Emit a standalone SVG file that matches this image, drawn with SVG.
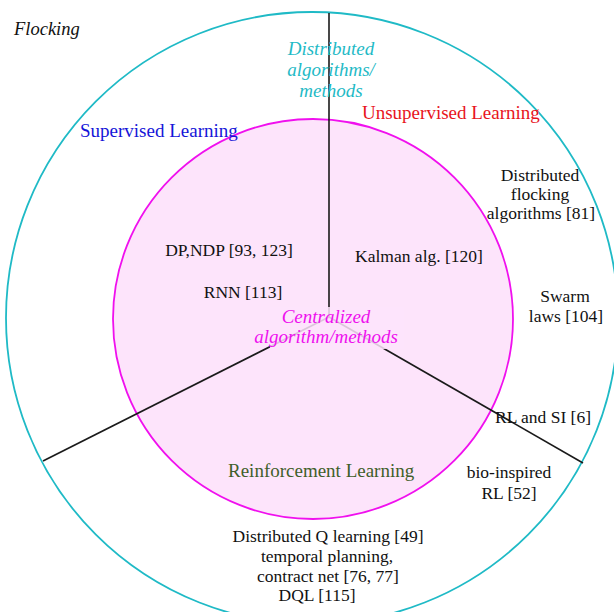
<svg xmlns="http://www.w3.org/2000/svg" width="614" height="612" viewBox="0 0 614 612">
  <style>
    .t { font-family: "Liberation Serif", "Times New Roman", serif; fill: #111; font-size: 17.5px; }
    .c { text-anchor: middle; }
    .it { font-style: italic; }
    .ring { fill: none; stroke: #1fbac6; stroke-width: 1.8; }
    .core { fill: #fde4fb; stroke: #f010ee; stroke-width: 1.8; }
    .div { stroke: #1a1a1a; stroke-width: 1.6; fill: none; }
  </style>
  <rect width="614" height="612" fill="#fff"/>

  <!-- distributed ring and centralized core -->
  <g id="distributed-ring">
    <circle class="ring" cx="312" cy="318" r="306"/>
  </g>
  <g id="centralized-core">
    <circle class="core" cx="313" cy="319" r="200"/>
  </g>

  <!-- sector dividers -->
  <g id="connectors">
    <line class="div" x1="329" y1="13" x2="329" y2="317"/>
    <line class="div" x1="329" y1="317" x2="43" y2="461"/>
    <line class="div" x1="329" y1="317" x2="583" y2="463"/>
  </g>

  <g id="flocking-title">
    <text class="t it" x="14" y="35" style="font-size:18.5px">Flocking</text>
  </g>

  <g id="distributed-label">
    <text class="t it c" x="331" y="55" style="fill:#1fbac6;font-size:19px">Distributed</text>
    <text class="t it c" x="331" y="76" style="fill:#1fbac6;font-size:19px">algorithms/</text>
    <text class="t it c" x="331" y="97" style="fill:#1fbac6;font-size:19px">methods</text>
  </g>

  <g id="centralized-label">
    <rect x="270" y="307" width="134" height="42" fill="#fde4fb" opacity="0.85"/>
    <text class="t it c" x="326" y="323" style="fill:#ee10ee;font-size:19px">Centralized</text>
    <text class="t it c" x="326" y="343" style="fill:#ee10ee;font-size:19px">algorithm/methods</text>
  </g>

  <g id="supervised">
    <text class="t" x="80" y="137" style="fill:#1515d8;font-size:19px">Supervised Learning</text>
    <text class="t c" x="229" y="256">DP,NDP [93, 123]</text>
    <text class="t c" x="243" y="298">RNN [113]</text>
  </g>

  <g id="unsupervised">
    <text class="t" x="362" y="119" style="fill:#e8141c;font-size:19px">Unsupervised Learning</text>
    <text class="t c" x="419" y="262">Kalman alg. [120]</text>
    <text class="t c" x="540" y="181">Distributed</text>
    <text class="t c" x="540" y="200">flocking</text>
    <text class="t c" x="541" y="219">algorithms [81]</text>
    <text class="t c" x="565" y="302">Swarm</text>
    <text class="t c" x="566" y="322">laws [104]</text>
  </g>

  <g id="reinforcement">
    <text class="t" x="228" y="477" style="fill:#3f5f2a;font-size:19px">Reinforcement Learning</text>
    <text class="t c" x="543" y="423">RL and SI [6]</text>
    <text class="t c" x="509" y="478">bio-inspired</text>
    <text class="t c" x="509" y="499">RL [52]</text>
    <text class="t c" x="328" y="542">Distributed Q learning [49]</text>
    <text class="t c" x="327" y="562">temporal planning,</text>
    <text class="t c" x="328" y="582">contract net [76, 77]</text>
    <text class="t c" x="317" y="601">DQL [115]</text>
  </g>
</svg>
